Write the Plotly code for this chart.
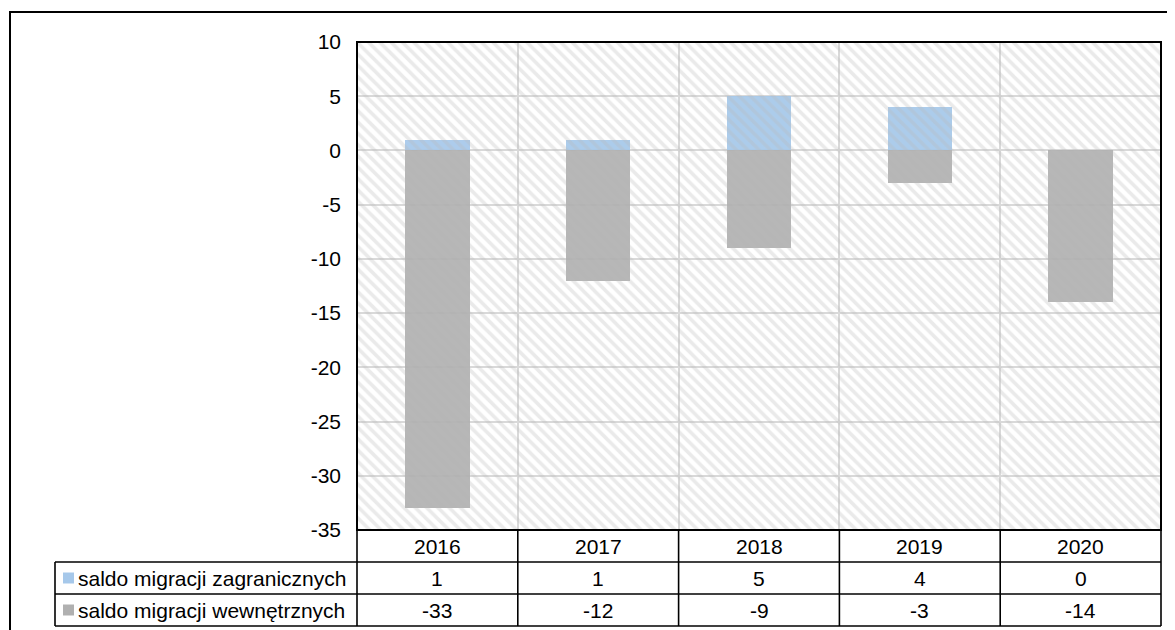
import plotly.graph_objects as go

years = ["2016", "2017", "2018", "2019", "2020"]
zagraniczne = [1, 1, 5, 4, 0]
wewnetrzne = [-33, -12, -9, -3, -14]
series_names = ["saldo migracji zagranicznych", "saldo migracji wewnętrznych"]
y_ticks = [10, 5, 0, -5, -10, -15, -20, -25, -30, -35]
y_tick_text = ["10", "5", "0", "-5", "-10", "-15", "-20", "-25", "-30", "-35"]

BLUE = "#a6c8ea"
GRAY = "#b0b0b0"
FONT = "Liberation Sans, Arial, sans-serif"
FS = 21

OFF = 8  # page body margin
W, H = 1175, 630
# screen pixel positions of plot area
SL, SR, ST, SB = 357, 1161, 42, 530
PL, PR, PT, PB = SL - OFF, SR - OFF, ST - OFF, SB - OFF
pw, ph = PR - PL, PB - PT


def px_x(p):
    return (p - SL) / pw


def px_y(p):
    return (SB - p) / ph


ymin, ymax = min(y_ticks), max(y_ticks)
xs = list(range(len(years)))
xlo, xhi = -0.5, len(years) - 0.5

fig = go.Figure()
fig.add_trace(go.Bar(x=xs, y=zagraniczne, name=series_names[0], marker=dict(color=BLUE, line=dict(width=0)),
                     width=0.4, opacity=0.92, hoverinfo="skip"))
fig.add_trace(go.Bar(x=xs, y=wewnetrzne, name=series_names[1], marker=dict(color=GRAY, line=dict(width=0)),
                     width=0.4, opacity=0.92, hoverinfo="skip"))
# hatched plot-area background
fig.add_trace(go.Scatter(x=[xlo, xhi, xhi, xlo, xlo], y=[ymin, ymin, ymax, ymax, ymin], mode="none",
                         fill="toself", fillcolor="rgba(0,0,0,0)",
                         fillpattern=dict(shape="\\", fgcolor="rgba(185,185,185,0.6)",
                                          bgcolor="rgba(255,255,255,0)", size=8, solidity=0.45),
                         hoverinfo="skip", showlegend=False))

shapes = []
blk = dict(color="black", width=1.6)
# outer border
shapes.append(dict(type="rect", xref="paper", yref="paper", x0=px_x(10), x1=px_x(1200), y0=px_y(660), y1=px_y(12),
                   line=dict(color="black", width=2), layer="above"))
# plot border
shapes.append(dict(type="rect", xref="paper", yref="paper", x0=0, x1=1, y0=0, y1=1,
                   line=dict(color="black", width=2), layer="above"))
# table horizontal lines
for yy, x0p in [(562, 55), (594, 55), (626, 55)]:
    shapes.append(dict(type="line", xref="paper", yref="paper", x0=px_x(x0p), x1=1, y0=px_y(yy), y1=px_y(yy), line=blk))
# table vertical lines
shapes.append(dict(type="line", xref="paper", yref="paper", x0=px_x(55), x1=px_x(55), y0=px_y(562), y1=px_y(626), line=blk))
shapes.append(dict(type="line", xref="paper", yref="paper", x0=0, x1=0, y0=0, y1=px_y(626), line=blk))
shapes.append(dict(type="line", xref="paper", yref="paper", x0=1, x1=1, y0=0, y1=px_y(626), line=blk))
for i in range(len(years) - 1):
    shapes.append(dict(type="line", xref="x", yref="paper", x0=i + 0.5, x1=i + 0.5, y0=0, y1=px_y(626), line=blk))
# legend keys
for r, col in enumerate([BLUE, GRAY]):
    yc = 578 + 32 * r
    shapes.append(dict(type="rect", xref="paper", yref="paper", x0=px_x(63), x1=px_x(74), y0=px_y(yc + 5.5),
                       y1=px_y(yc - 5.5), fillcolor=col, line=dict(width=0)))

annotations = []
tf = dict(family=FONT, size=FS, color="black")
for i, yr in enumerate(years):
    annotations.append(dict(x=i, y=px_y(546), xref="x", yref="paper", text=yr, showarrow=False, font=tf,
                            xanchor="center", yanchor="middle"))
for r, vals in enumerate([zagraniczne, wewnetrzne]):
    yc = 578 + 32 * r
    for i, v in enumerate(vals):
        annotations.append(dict(x=i, y=px_y(yc), xref="x", yref="paper", text=str(v), showarrow=False, font=tf,
                                xanchor="center", yanchor="middle"))
    annotations.append(dict(x=px_x(76), y=px_y(yc), xref="paper", yref="paper", text=series_names[r],
                            showarrow=False, font=tf, xanchor="left", yanchor="middle"))

fig.update_layout(
    width=W, height=H,
    margin=dict(l=PL, r=W - PR, t=PT, b=H - PB, pad=0),
    paper_bgcolor="white", plot_bgcolor="white",
    barmode="relative", bargap=0, showlegend=False,
    font=dict(family=FONT, size=FS, color="black"),
    xaxis=dict(range=[xlo, xhi], showticklabels=False, ticks="", showgrid=True, gridcolor="#d9d9d9", gridwidth=1.5,
               tick0=0.5, dtick=1, zeroline=False, showline=False, fixedrange=True),
    yaxis=dict(range=[ymin, ymax], tickvals=y_ticks, ticktext=y_tick_text, showgrid=True, gridcolor="#d9d9d9",
               gridwidth=1.5, zeroline=False, showline=False, ticks="", ticklabelstandoff=15,
               tickfont=tf, fixedrange=True),
    shapes=shapes, annotations=annotations,
)

fig.write_html("out.html")
